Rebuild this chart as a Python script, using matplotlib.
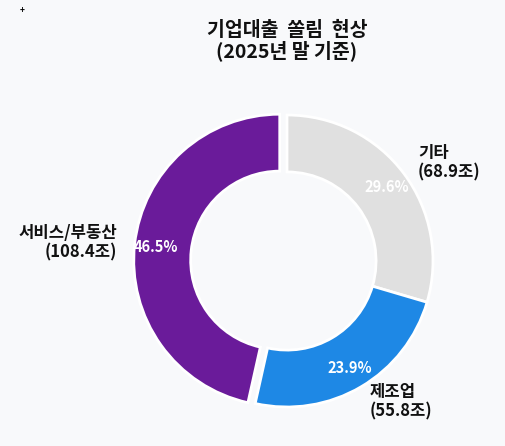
import matplotlib
matplotlib.use("Agg")
import matplotlib.pyplot as plt

plt.rcParams['font.family'] = ['Noto Sans CJK KR', 'DejaVu Sans']

categories = ['기타', '제조업', '서비스/부동산']
values = [68.9, 55.8, 108.4]
colors = ['#e0e0e0', '#1e88e5', '#6a1b9a']
explode = [0, 0, 0.05]
labels = [f'{c}\n({v}조)' for c, v in zip(categories, values)]

W, H = 506, 446
fig = plt.figure(figsize=(W / 100, H / 100), dpi=100)
fig.patch.set_facecolor('#f8f9fb')

cx, cy, r = 287, 261, 146
L = 1.3
side = 2 * L * r
ax = fig.add_axes([(cx - side / 2) / W, (H - cy - side / 2) / H, side / W, side / H])
ax.set_facecolor('#f8f9fb')

wedges, texts, autotexts = ax.pie(
    values, labels=labels, colors=colors, explode=explode,
    startangle=90, counterclock=False, autopct='%.1f%%',
    pctdistance=0.85, labeldistance=1.12,
    wedgeprops=dict(width=0.39, edgecolor='white', linewidth=2),
    textprops=dict(fontsize=12, fontweight='bold', color='#111111'),
)
for t in texts:
    t.set_linespacing(1.1)
for t in autotexts:
    t.set_color('white')
    t.set_fontsize(10.5)
ax.set_xlim(-L, L)
ax.set_ylim(-L, L)
ax.set_aspect('equal')
ax.axis('off')

fig.text(cx / W, 1 - 41 / H, '기업대출  쏠림  현상\n(2025년 말 기준)', ha='center', va='center',
         fontsize=14, fontweight='bold', color='#111111', linespacing=1.05)
fig.text(22 / W, 1 - 10 / H, '+', ha='center', va='center', fontsize=6,
         fontweight='bold', color='black')

fig.savefig('out.png', dpi=100, facecolor=fig.get_facecolor())
